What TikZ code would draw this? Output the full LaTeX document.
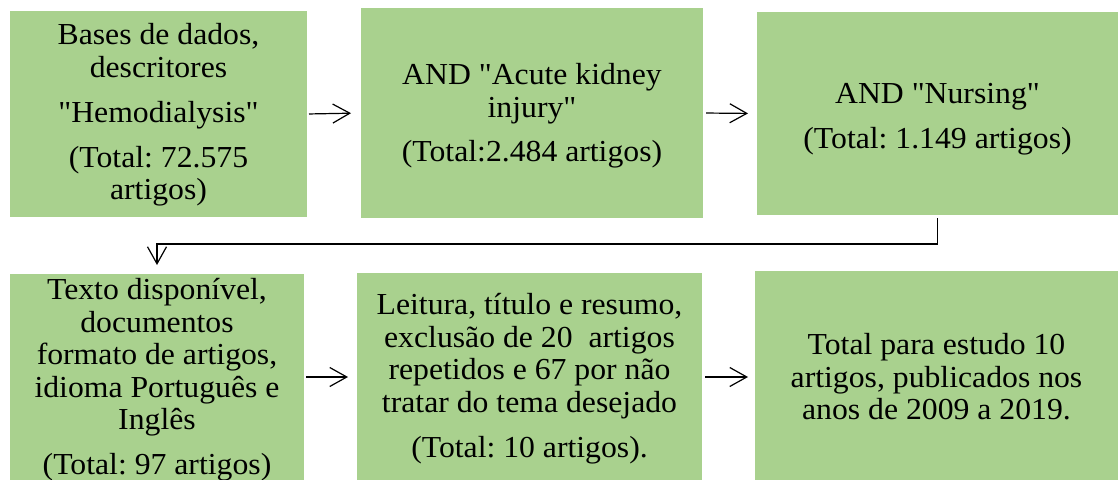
\documentclass[tikz,border=0pt]{standalone}
\usepackage{fontspec}
\setmainfont{Liberation Serif}[FakeStretch=1.04,Ligatures=TeXOff]
\usetikzlibrary{arrows.meta}
\definecolor{boxgreen}{HTML}{A9D18E}
\tikzset{
  box/.style={fill=boxgreen, draw=none, inner sep=0pt, outer sep=0pt, anchor=center},
  txt/.style={align=center, inner sep=0pt, text=black, font=\fontsize{30.5pt}{32.5pt}\selectfont\frenchspacing},
  arr/.style={line width=1.2pt, -{Straight Barb[length=17pt,width=19pt,line width=1.2pt]}}
}
\begin{document}
\frenchspacing
\begin{tikzpicture}[x=1pt,y=-1pt]
\useasboundingbox (0,0) rectangle (1118,479);
% boxes
\node[box, minimum width=297pt, minimum height=206pt] (b1) at (158.5,114) {};
\node[box, minimum width=342pt, minimum height=210pt] (b2) at (532,113) {};
\node[box, minimum width=361pt, minimum height=203pt] (b3) at (937.5,113.5) {};
\node[box, minimum width=294pt, minimum height=216pt] (b4) at (157,382) {};
\node[box, minimum width=345pt, minimum height=217pt] (b5) at (529.5,381.5) {};
\node[box, minimum width=363pt, minimum height=219pt] (b6) at (936.5,380.5) {};
% texts
\node[txt] (t1) at (158.5,114.8) {Bases de dados,\\ descritores\\[12.5pt] "Hemodialysis"\\[12.5pt] (Total: 72.575\\ artigos)};
\node[txt] (t2) at (532,116) {AND "Acute kidney\\ injury"\\[12pt] (Total:2.484 artigos)};
\node[txt] (t3) at (937.5,119) {AND "Nursing"\\[12.5pt] (Total: 1.149 artigos)};
\node[txt] (t4) at (157,379.8) {Texto disponível,\\ documentos\\ formato de artigos,\\ idioma Português e\\ Inglês\\[12.5pt] (Total: 97 artigos)};
\node[txt] (t5) at (529.5,378.8) {Leitura, título e resumo,\\ exclusão de 20\ \ artigos\\ repetidos e 67 por não\\ tratar do tema desejado\\[12.5pt] (Total: 10 artigos).};
\node[txt] (t6) at (936.5,377) {Total para estudo 10\\ artigos, publicados nos\\ anos de 2009 a 2019.};
% connectors
\coordinate (r2) at (0,377);
\coordinate (el) at (0,244);
\draw[arr, shorten <=2pt, shorten >=10pt] (b1.east) -- (b2.west);
\draw[arr, shorten <=3pt, shorten >=9pt] (b2.east) -- (b3.west);
\draw[arr, shorten <=2pt, shorten >=9pt] (b4.east |- r2) -- (b5.west |- r2);
\draw[arr, shorten <=3pt, shorten >=7pt] (b5.east |- r2) -- (b6.west |- r2);
\draw[arr, shorten <=3pt, shorten >=9pt] (b3.south) -- (b3.south |- el) -| (b4.north);
\end{tikzpicture}
\end{document}
